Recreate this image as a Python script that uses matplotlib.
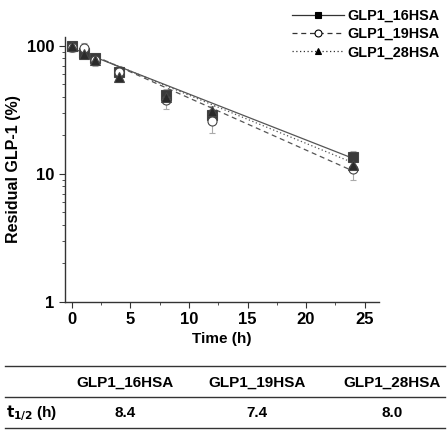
import numpy as np
import matplotlib
matplotlib.use("Agg")
import matplotlib.pyplot as plt
from matplotlib.lines import Line2D

plt.rcParams['font.family'] = ['Liberation Sans', 'DejaVu Sans']
plt.rcParams['font.weight'] = 'bold'

# data
time_h = [0, 1, 2, 4, 8, 12, 24]
names = ["GLP1_16HSA", "GLP1_19HSA", "GLP1_28HSA"]
res_16 = [100, 88, 80, 62, 41, 29, 13.5]
err_16 = [6, 5, 6, 6, 5, 3, 1.5]
res_19 = [98, 97, 78, 63, 38, 26, 11]
err_19 = [8, 8, 8, 7, 6, 5, 2]
res_28 = [100, 87, 77, 57, 40, 31, 11.8]
err_28 = [6, 5, 6, 5, 4, 3, 1.2]
half_life = [8.4, 7.4, 8.0]
fit_start = [96, 100, 98]

series = [res_16, res_19, res_28]
errors = [err_16, err_19, err_28]
markers = ['s', 'o', '^']
mfc = ['#3a3a3a', 'white', '#2a2a2a']
styles = ['-', (0, (4, 3)), (0, (1, 2))]

fig = plt.figure(figsize=(4.48, 4.32), dpi=100)
ax = fig.add_axes([0.145, 0.301, 0.70, 0.613])

tt = np.linspace(0, 24, 100)
handles = []
for i in range(3):
    ax.errorbar(time_h, series[i], yerr=errors[i], fmt='none', ecolor='#aaaaaa',
                elinewidth=0.8, capsize=2.5, capthick=0.8, zorder=2)
    k = np.log(2) / half_life[i]
    ax.plot(tt, fit_start[i] * np.exp(-k * tt), color='#555555', lw=0.9,
            linestyle=styles[i], zorder=3)
    ax.plot(time_h, series[i], linestyle='none', marker=markers[i], ms=6.5,
            mfc=mfc[i], mec='#444444', mew=0.8, zorder=4)
    handles.append(Line2D([], [], color='#333333', lw=0.9, linestyle=styles[i],
                          marker=markers[i], ms=5, mfc='black' if i != 1 else 'white',
                          mec='black', mew=0.8))

ax.set_yscale('log')
ax.set_ylim(1, 117)
ax.set_xlim(-0.6, 26.2)
ax.set_xticks([0, 5, 10, 15, 20, 25])
ax.set_xticks(np.arange(2.5, 26, 5), minor=True)
ax.set_yticks([1, 10, 100])
ax.set_yticklabels(['1', '10', '100'])
ax.spines['top'].set_visible(False)
ax.spines['right'].set_visible(False)
for s in ['left', 'bottom']:
    ax.spines[s].set_color('#333333')
    ax.spines[s].set_linewidth(1.0)
ax.tick_params(which='major', length=4, labelsize=12, color='#333333')
ax.tick_params(which='minor', length=2.5, color='#333333')
for lab in ax.get_xticklabels() + ax.get_yticklabels():
    lab.set_fontweight('bold')
ax.set_xlabel('Time (h)', fontsize=11, fontweight='bold', labelpad=3)
ax.set_ylabel('Residual GLP-1 (%)', fontsize=11.5, fontweight='bold', labelpad=4)

fig.legend(handles, names, loc='upper right', bbox_to_anchor=(1.0, 1.0),
           frameon=False, handlelength=3.6, handletextpad=0.2,
           labelspacing=0.3, borderaxespad=0.2, prop={'weight': 'bold', 'size': 10.4})

# table under the chart
for yy in [366, 397, 428]:
    fig.add_artist(Line2D([5 / 448, 445 / 448], [1 - yy / 432, 1 - yy / 432],
                          color='#333333', lw=1.0))
col_x = [125, 257, 392]
for x, name, hl in zip(col_x, names, half_life):
    fig.text(x / 448, 1 - 383 / 432, name, ha='center', va='center',
             fontsize=11, fontweight='bold')
    fig.text(x / 448, 1 - 413 / 432, f"{hl:.1f}", ha='center', va='center',
             fontsize=11, fontweight='bold')
fig.text(6 / 448, 1 - 413 / 432, r'$\mathbf{t_{1/2}}$ (h)', ha='left', va='center',
         fontsize=11, fontweight='bold')

fig.savefig('out.png', dpi=100)
